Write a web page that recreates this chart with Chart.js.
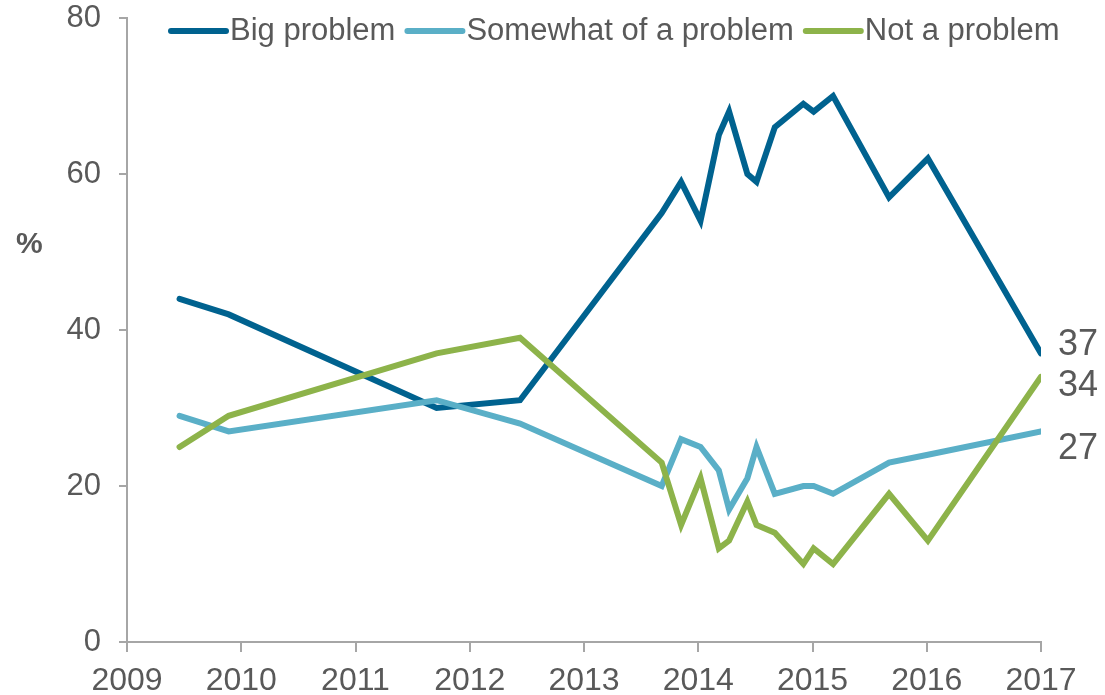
<!DOCTYPE html>
<html>
<head>
<meta charset="utf-8">
<script src="https://cdn.jsdelivr.net/npm/chart.js@4.4.1/dist/chart.umd.min.js"></script>
<style>
  html, body { margin: 0; padding: 0; background: #fff; }
  #wrap { width: 1105px; height: 695px; }
</style>
</head>
<body>
<div id="wrap"><canvas id="problemChart" width="1105" height="695"></canvas></div>
<script>
// survey dates (decimal years) and shares in %
const surveyDates = [2009.46, 2009.89, 2011.71, 2012.44, 2013.68, 2013.85, 2014.02, 2014.18, 2014.27,
  2014.43, 2014.51, 2014.67, 2014.92, 2015.01, 2015.18, 2015.67, 2016.01, 2017.0];
const bigProblem = [44, 42, 30, 31, 55, 59, 54, 65, 68, 60, 59, 66, 69, 68, 70, 57, 62, 37];
const somewhatProblem = [29, 27, 31, 28, 20, 26, 25, 22, 17, 21, 25, 19, 20, 20, 19, 23, 24, 27];
const notProblem = [25, 29, 37, 39, 23, 15, 21, 12, 13, 18, 15, 14, 10, 12, 10, 19, 13, 34];
const seriesNames = ['Big problem', 'Somewhat of a problem', 'Not a problem'];
const seriesColors = ['#00628F', '#5AAFC7', '#8DB34A'];

const FONT = "'Liberation Sans', Arial, sans-serif";
const TEXT = '#595959';
const AXIS = '#A6A6A6';

const toPoints = vals => surveyDates.map((x, i) => ({ x, y: vals[i] }));

// legend, % label and end-of-line labels
const annotations = {
  id: 'annotations',
  afterDatasetsDraw(chart) {
    const { ctx, scales: { x, y } } = chart;
    ctx.save();

    // legend across the top
    ctx.font = `31px ${FONT}`;
    ctx.textBaseline = 'middle';
    let lx = 171;
    const ly = 31;
    chart.data.datasets.forEach(ds => {
      ctx.strokeStyle = ds.borderColor;
      ctx.lineWidth = 6;
      ctx.lineCap = 'round';
      ctx.beginPath();
      ctx.moveTo(lx, ly);
      ctx.lineTo(lx + 55, ly);
      ctx.stroke();
      ctx.fillStyle = TEXT;
      ctx.textAlign = 'left';
      ctx.fillText(ds.label, lx + 59, ly);
      lx += 59 + ctx.measureText(ds.label).width + 12;
    });

    // y unit
    ctx.font = `bold 30px ${FONT}`;
    ctx.fillStyle = TEXT;
    ctx.textAlign = 'left';
    ctx.fillText('%', 16, 245);

    // last values
    ctx.font = `36px ${FONT}`;
    const nudge = [-8, 18, 9];
    chart.data.datasets.forEach((ds, i) => {
      const last = ds.data[ds.data.length - 1];
      ctx.fillText(String(last.y), x.getPixelForValue(last.x) + 17, y.getPixelForValue(last.y) + nudge[i]);
    });
    ctx.restore();
  }
};

new Chart(document.getElementById('problemChart').getContext('2d'), {
  type: 'line',
  data: {
    datasets: [bigProblem, somewhatProblem, notProblem].map((vals, i) => ({
      label: seriesNames[i],
      data: toPoints(vals),
      borderColor: seriesColors[i],
      backgroundColor: seriesColors[i],
      borderWidth: 6,
      borderCapStyle: 'round',
      borderJoinStyle: 'miter',
      pointRadius: 0,
      tension: 0,
      order: 3 - i,
    })),
  },
  options: {
    responsive: false,
    animation: false,
    layout: { padding: { left: 0, top: 0, right: 64, bottom: 0 } },
    plugins: {
      legend: { display: false },
      tooltip: { enabled: false },
    },
    scales: {
      x: {
        type: 'linear',
        min: 2009,
        max: 2017,
        afterFit: s => { s.height = 53; },
        ticks: {
          stepSize: 1,
          callback: v => String(v),
          color: TEXT,
          font: { family: FONT, size: 32 },
          padding: 10,
          maxRotation: 0,
        },
        grid: { drawOnChartArea: false, drawTicks: true, tickLength: 10, color: AXIS, lineWidth: 2 },
        border: { color: AXIS, width: 2 },
      },
      y: {
        min: 0,
        max: 80,
        afterFit: s => { s.width = 127; s.paddingTop = 18; s.paddingBottom = 0; },
        ticks: {
          stepSize: 20,
          color: TEXT,
          font: { family: FONT, size: 31 },
          padding: 18,
        },
        grid: { drawOnChartArea: false, drawTicks: true, tickLength: 8, color: AXIS, lineWidth: 2 },
        border: { color: AXIS, width: 2 },
      },
    },
  },
  plugins: [annotations],
});
</script>
</body>
</html>
